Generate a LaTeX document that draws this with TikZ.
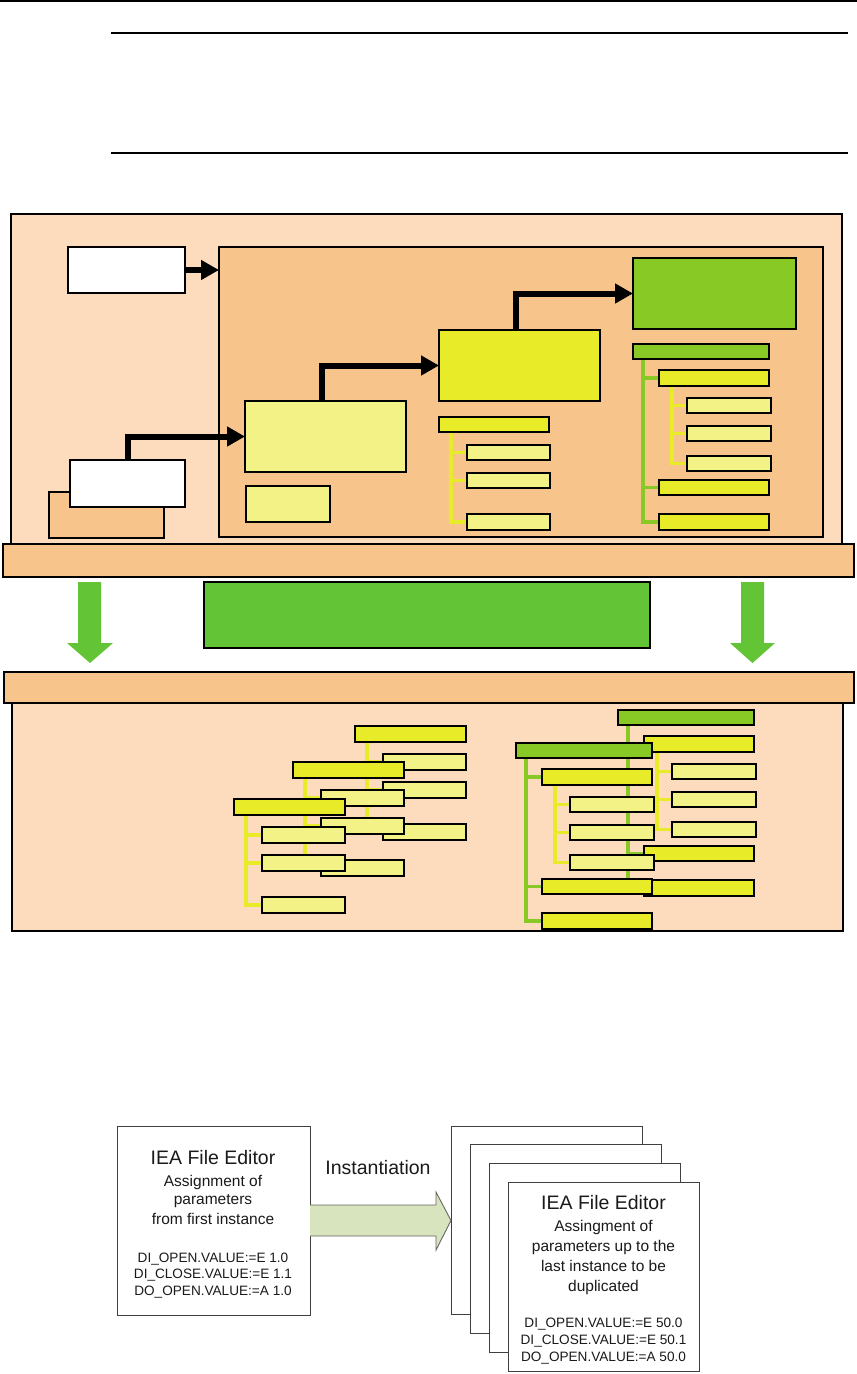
\documentclass[tikz,border=0pt]{standalone}
\usepackage{fontspec}
\setmainfont{Liberation Sans}
\usetikzlibrary{arrows.meta,calc}
\definecolor{lpeach}{HTML}{FCDCBC}
\definecolor{peach}{HTML}{F7C48B}
\definecolor{lyel}{HTML}{F2F287}
\definecolor{yel}{HTML}{E8EB27}
\definecolor{hgreen}{HTML}{88C926}
\definecolor{mgreen}{HTML}{63C436}
\definecolor{sage}{HTML}{D8E4BE}
\definecolor{ink}{HTML}{1A1A1A}
\definecolor{edge}{HTML}{404040}
\pgfdeclarelayer{back}
\pgfdeclarelayer{links}
\pgfsetlayers{back,links,main}
\tikzset{
  lightbox/.style={draw=black, fill=lpeach, line width=1.5pt},
  peachbox/.style={draw=black, fill=peach, line width=1.4pt},
  barbox/.style={draw=black, fill=peach, line width=2.2pt},
  whitebox/.style={draw=black, fill=white, line width=1.5pt},
  lybox/.style={draw=black, fill=lyel, line width=1.2pt},
  lyboxt/.style={draw=black, fill=lyel, line width=2pt},
  ybox/.style={draw=black, fill=yel, line width=1.6pt},
  ybig/.style={draw=black, fill=yel, line width=1.6pt},
  gbox/.style={draw=black, fill=hgreen, line width=2pt},
  gbig/.style={draw=black, fill=hgreen, line width=2pt},
  midgreen/.style={draw=black, fill=mgreen, line width=2pt},
  ylink/.style={draw=yel, line width=3.5pt},
  glink/.style={draw=hgreen, line width=3.8pt},
  blk/.style={draw=black, line width=6pt, line join=miter, -{Triangle[length=18pt,width=19pt]}},
  docbox/.style={draw=edge, fill=white, line width=1pt},
  txt/.style={text=ink, inner sep=0pt, anchor=base},
  tbig/.style={txt, font=\fontsize{19.5}{23}\selectfont},
  tmid/.style={txt, font=\fontsize{15.5}{19}\selectfont},
  tsml/.style={txt, font=\fontsize{13.6}{16}\selectfont},
}
\newcommand{\rb}[6]{%
  \pgfmathsetmacro{\rbw}{(#5)-(#3)}%
  \pgfmathsetmacro{\rbh}{(#6)-(#4)}%
  \node[#1, anchor=north west, inner sep=0pt, outer sep=0pt,
        minimum width=\rbw pt, minimum height=\rbh pt] (#2) at ({#3},{#4}) {};}
\newcommand{\ytree}[3]{%
  \rb{ybox}{#1h}{#2}{#3}{#2+111}{#3+16}
  \rb{lyboxt}{#1a}{#2+28}{#3+28}{#2+111}{#3+44}
  \rb{lyboxt}{#1b}{#2+28}{#3+56}{#2+111}{#3+72}
  \rb{lyboxt}{#1c}{#2+28}{#3+98}{#2+111}{#3+114}
  \begin{pgfonlayer}{links}
    \draw[ylink] ([xshift=12pt]#1h.south west) |- (#1a.west);
    \draw[ylink] ([xshift=12pt]#1h.south west) |- (#1b.west);
    \draw[ylink] ([xshift=12pt]#1h.south west) |- (#1c.west);
  \end{pgfonlayer}}
\newcommand{\gtree}[3]{%
  \rb{gbox}{#1h}{#2}{#3}{#2+136}{#3+15}
  \rb{ybox}{#1a}{#2+26}{#3+26}{#2+136}{#3+42}
  \rb{lyboxt}{#1p}{#2+54}{#3+54}{#2+138}{#3+69}
  \rb{lyboxt}{#1q}{#2+54}{#3+82}{#2+138}{#3+97}
  \rb{lyboxt}{#1r}{#2+54}{#3+112}{#2+138}{#3+127}
  \rb{ybox}{#1b}{#2+26}{#3+136}{#2+136}{#3+151}
  \rb{ybox}{#1c}{#2+26}{#3+170}{#2+136}{#3+186}
  \begin{pgfonlayer}{links}
    \draw[glink] ([xshift=10pt]#1h.south west) |- (#1a.west);
    \draw[glink] ([xshift=10pt]#1h.south west) |- (#1b.west);
    \draw[glink] ([xshift=10pt]#1h.south west) |- (#1c.west);
    \draw[ylink] ([xshift=13pt]#1a.south west) |- (#1p.west);
    \draw[ylink] ([xshift=13pt]#1a.south west) |- (#1q.west);
    \draw[ylink] ([xshift=13pt]#1a.south west) |- (#1r.west);
  \end{pgfonlayer}}
\begin{document}
\begin{tikzpicture}[x=1pt,y=-1pt]
\useasboundingbox (0,0) rectangle (857,1374);
\begin{pgfonlayer}{back}
  \fill[white] (0,0) rectangle (857,1374);
\end{pgfonlayer}
% page rules
\coordinate (pl) at (0,0.8); \coordinate (pr) at (857,0.8);
\draw[line width=1.4pt] (pl) -- (pr);
\coordinate (r1a) at (111,33); \coordinate (r1b) at (848,33);
\coordinate (r2a) at (111,153); \coordinate (r2b) at (848,153);
\draw[line width=1.3pt] (r1a) -- (r1b);
\draw[line width=1.3pt] (r2a) -- (r2b);
% ===== upper section =====
\begin{pgfonlayer}{back}
  \rb{lightbox}{outer}{11}{214}{842}{545}
  \rb{peachbox}{inner}{219}{247}{823}{537}
  \rb{peachbox}{shadow}{49}{492}{164}{538}
\end{pgfonlayer}
\rb{whitebox}{w1}{68}{247}{185}{293}
\rb{whitebox}{w2}{70}{460}{185}{507}
\rb{lybox}{b3}{245}{401}{406}{472}
\rb{lybox}{b4}{246}{486}{330}{522}
\rb{ybig}{b5}{439}{330}{600}{401}
\rb{gbig}{g6}{633}{258}{796}{329}
\draw[blk] (w1.east) -- (w1.east -| inner.west);
\draw[blk] (w2.north) |- (b3.west);
\draw[blk] ([xshift=-4pt]b3.north) |- (b5.west);
\draw[blk] ([xshift=-4pt]b5.north) |- (g6.west);
% tree under yellow box
\rb{ybox}{th}{439}{417}{549}{432}
\rb{lyboxt}{ta}{467}{445}{550}{460}
\rb{lyboxt}{tb}{467}{473}{550}{488}
\rb{lyboxt}{tc}{467}{514}{550}{530}
\begin{pgfonlayer}{links}
  \draw[ylink] ([xshift=12pt]th.south west) |- (ta.west);
  \draw[ylink] ([xshift=12pt]th.south west) |- (tb.west);
  \draw[ylink] ([xshift=12pt]th.south west) |- (tc.west);
\end{pgfonlayer}
% tree under green box
\gtree{u}{633}{344}
% top bar
\rb{barbox}{bar1}{3}{544}{854}{577}
% ===== middle =====
\rb{midgreen}{mg}{204}{582}{650}{648}
\fill[mgreen] (78,582) -- (101,582) -- (101,643) -- (113,643) -- (90,663) -- (67,643) -- (78,643) -- cycle;
\fill[mgreen] (741,582) -- (764,582) -- (764,643) -- (775,643) -- (752.5,663) -- (730,643) -- (741,643) -- cycle;
% ===== lower section =====
\begin{pgfonlayer}{back}
  \rb{lightbox}{lower}{12}{700}{843}{931}
\end{pgfonlayer}
\rb{barbox}{bar2}{4}{672}{854}{703}
\ytree{ya}{355}{726}
\ytree{yb}{293}{762}
\ytree{yc}{234}{799}
\gtree{ga}{618}{710}
\gtree{gb}{516}{743}
% ===== bottom diagram =====
\rb{docbox}{lb}{117}{1126}{310}{1315}
\rb{docbox}{s1}{451}{1126}{642}{1314}
\rb{docbox}{s2}{470}{1144}{661}{1333}
\rb{docbox}{s3}{489}{1163}{680}{1352}
\rb{docbox}{s4}{508}{1182}{699}{1371}
\draw[draw=edge!80, fill=sage, line width=0.9pt]
  let \p1=(lb.east), \p2=(s1.west) in
  (\x1,\y1+15.5pt) -- (\x2-15pt,\y1+15.5pt) -- (\x2-15pt,\y1+28.5pt) -- (\x2,\y1)
  -- (\x2-15pt,\y1-29.5pt) -- (\x2-15pt,\y1-15.5pt) -- (\x1,\y1-15.5pt);
\node[tbig] (inst) at (378,1174) {Instantiation};
% left box text
\node[tbig] (l1) at (213,1164) {IEA File Editor};
\node[tmid] (l2) at (213,1186.5) {Assignment of};
\node[tmid] (l3) at (213,1204.5) {parameters};
\node[tmid] (l4) at (213,1224) {from first instance};
\node[tsml] (l5) at (213,1262) {DI\_OPEN.VALUE:=E 1.0};
\node[tsml] (l6) at (213,1278.5) {DI\_CLOSE.VALUE:=E 1.1};
\node[tsml] (l7) at (213,1295) {DO\_OPEN.VALUE:=A 1.0};
% stacked box text
\node[tbig] (r1) at (603.5,1209) {IEA File Editor};
\node[tmid] (r2) at (603.5,1231.5) {Assingment of};
\node[tmid] (r3) at (603.5,1251.5) {parameters up to the};
\node[tmid] (r4) at (603.5,1271.5) {last instance to be};
\node[tmid] (r5) at (603.5,1291.5) {duplicated};
\node[tsml] (r6) at (603.5,1327) {DI\_OPEN.VALUE:=E 50.0};
\node[tsml] (r7) at (603.5,1344) {DI\_CLOSE.VALUE:=E 50.1};
\node[tsml] (r8) at (603.5,1361) {DO\_OPEN.VALUE:=A 50.0};
\end{tikzpicture}
\end{document}
